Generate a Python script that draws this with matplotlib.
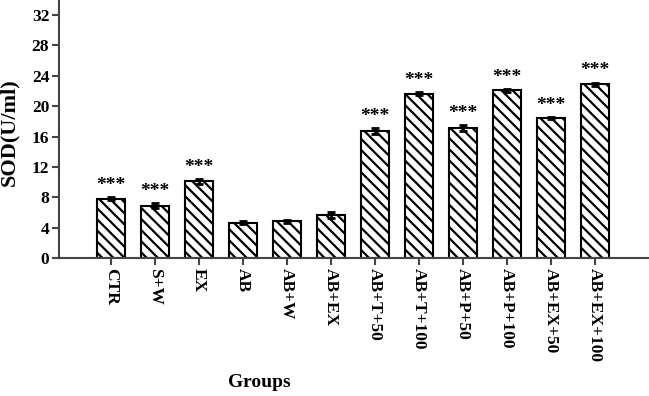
import numpy as np
import matplotlib
matplotlib.use('Agg')
import matplotlib.pyplot as plt

groups = ['CTR', 'S+W', 'EX', 'AB', 'AB+W', 'AB+EX', 'AB+T+50', 'AB+T+100',
          'AB+P+50', 'AB+P+100', 'AB+EX+50', 'AB+EX+100']
sod = [7.8, 6.9, 10.1, 4.7, 4.9, 5.7, 16.7, 21.6, 17.1, 22.1, 18.4, 22.9]
err = [0.2, 0.35, 0.35, 0.2, 0.2, 0.35, 0.4, 0.2, 0.4, 0.2, 0.15, 0.2]
stars = ['***', '***', '***', '', '', '', '***', '***', '***', '***', '***', '***']

plt.rcParams['font.family'] = 'Liberation Serif'
plt.rcParams['font.weight'] = 'bold'
plt.rcParams['hatch.linewidth'] = 1.6

fig = plt.figure(figsize=(6.49, 3.96), dpi=100)
ax = fig.add_axes([0.091, 0.3477, 0.909, 0.6495])

x = np.arange(len(groups))
ax.bar(x, sod, width=0.63, color='white', edgecolor='black', linewidth=1.5,
       hatch='\\\\\\', zorder=2)
ax.errorbar(x, sod, yerr=err, fmt='none', ecolor='black', elinewidth=2,
            capsize=3, capthick=2, zorder=3)

# significance marks
for xi, v, e, s in zip(x, sod, err, stars):
    if s:
        ax.text(xi, v + e + 0.4, s, ha='center', va='bottom', fontsize=14,
                fontweight='bold')

ax.set_xlim(-1.175, 12.23)
ax.set_ylim(0, 33.8)
ax.set_yticks(range(0, 33, 4))
ax.set_xticks(x)
ax.set_xticklabels(groups, rotation=270, fontsize=12.5, fontweight='bold')
ax.tick_params(axis='y', labelsize=12.5, length=5, width=1.5, color='#444', pad=2)
ax.tick_params(axis='x', length=5, width=1.5, color='#444', pad=2)
for lab in ax.get_yticklabels():
    lab.set_fontweight('bold')

for side in ['top', 'right']:
    ax.spines[side].set_visible(False)
for side in ['left', 'bottom']:
    ax.spines[side].set_linewidth(1.5)
    ax.spines[side].set_color('#444')

ax.set_ylabel('SOD(U/ml)', fontsize=16, fontweight='bold', va='center')
ax.yaxis.set_label_coords(-0.084, 0.492)
ax.set_xlabel('Groups', fontsize=14, fontweight='bold', va='center')
ax.xaxis.set_label_coords(0.34, -0.484)

fig.savefig('out.png', dpi=100)
